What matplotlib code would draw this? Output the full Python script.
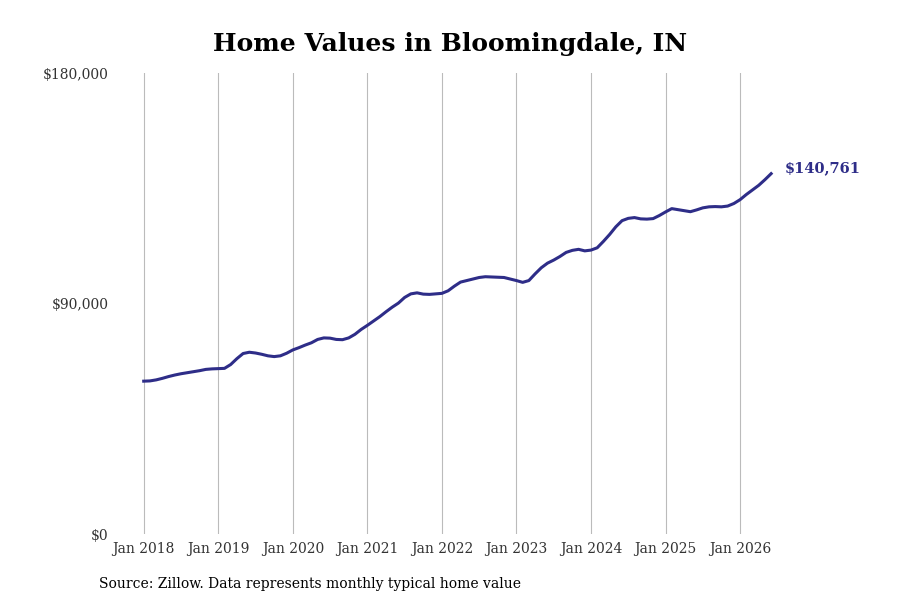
import matplotlib
matplotlib.use("Agg")
import matplotlib.pyplot as plt
import numpy as np

values_k = [
59.7,59.8,60.2,60.8,61.5,62.1,62.6,63.0,63.4,63.8,64.3,64.5,
64.6,64.7,66.2,68.5,70.5,71.0,70.7,70.2,69.6,69.3,69.6,70.6,
71.9,72.8,73.8,74.7,76.0,76.6,76.5,76.0,75.9,76.6,78.0,79.9,
81.5,83.2,84.9,86.8,88.6,90.2,92.4,93.8,94.2,93.7,93.6,93.8,
94.0,95.0,96.8,98.4,99.0,99.6,100.2,100.5,100.4,100.3,100.2,99.6,
99.0,98.3,99.0,101.6,104.0,105.8,107.0,108.4,110.0,110.8,111.2,110.6,
110.9,111.8,114.3,117.0,120.0,122.4,123.3,123.6,123.1,123.0,123.2,124.4,
125.8,127.1,126.7,126.3,125.9,126.6,127.4,127.8,127.9,127.8,128.1,129.1,
130.6,132.6,134.4,136.2,138.4,140.761]
values = np.array(values_k) * 1000
months = np.arange(len(values))
tick_labels = [f"Jan {y}" for y in range(2018, 2027)]
tick_pos = [12 * i for i in range(len(tick_labels))]
ytick_vals = [0, 90000, 180000]
ytick_labels = ["$0", "$90,000", "$180,000"]

plt.rcParams['font.family'] = ['DejaVu Serif']
fig = plt.figure(figsize=(9, 6), dpi=100)
ax = fig.add_axes([0.13, 0.11, 0.82, 0.768])
color = "#2e2d88"
ax.plot(months, values, color=color, lw=2.2)
ax.set_xlim(-4.3, 114.5)
ax.set_ylim(0, 180000)
ax.set_xticks(tick_pos)
ax.set_xticklabels(tick_labels, fontsize=10, color="#333333")
ax.set_yticks(ytick_vals)
ax.set_yticklabels(ytick_labels, fontsize=10, color="#333333")
ax.tick_params(length=0, pad=6)
ax.grid(axis="x", color="#bbbbbb", lw=0.8)
for s in ax.spines.values():
    s.set_visible(False)
ax.annotate(f"${values[-1]:,.0f}", (months[-1], values[-1]), xytext=(10, 4),
            textcoords="offset points", color=color, fontsize=10.5,
            fontweight="bold", va="center")
fig.text(0.5, 0.915, "Home Values in Bloomingdale, IN", ha="center",
         fontsize=18, fontweight="bold")
fig.text(0.11, 0.02, "Source: Zillow. Data represents monthly typical home value",
         fontsize=10)
fig.savefig("out.png")
